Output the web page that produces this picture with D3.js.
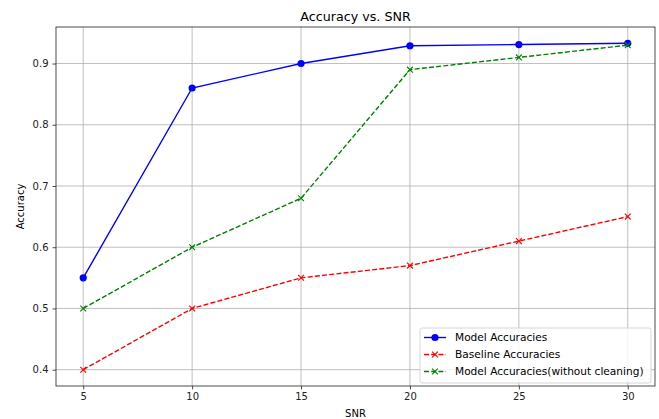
<!DOCTYPE html>
<html>
<head>
<meta charset="utf-8">
<title>Accuracy vs. SNR</title>
<style>
  body { margin: 0; background: #fff; }
  svg { display: block; font-family: 'DejaVu Sans', sans-serif; }
  .grid line { stroke: #b0b0b0; stroke-width: 0.8; }
</style>
<script src="https://d3js.org/d3.v7.min.js"></script>
</head>
<body>
<svg id="chart" width="659" height="419"></svg>
<script>
// data
var snr = [5, 10, 15, 20, 25, 30];
var modelAcc = [0.55, 0.86, 0.90, 0.929, 0.931, 0.933];
var baselineAcc = [0.40, 0.50, 0.55, 0.57, 0.61, 0.65];
var noCleanAcc = [0.50, 0.60, 0.68, 0.89, 0.91, 0.93];
var xTicks = [5, 10, 15, 20, 25, 30];
var yTicks = [0.4, 0.5, 0.6, 0.7, 0.8, 0.9];

var series = [
  { name: "Model Accuracies", values: modelAcc, color: "#0000ff", dash: null, marker: "o" },
  { name: "Baseline Accuracies", values: baselineAcc, color: "#ff0000", dash: "5,2.2", marker: "x" },
  { name: "Model Accuracies(without cleaning)", values: noCleanAcc, color: "#008000", dash: "5,2.2", marker: "x" }
];

var margin = { left: 56, right: 4, top: 27, bottom: 33 };
var W = 659, H = 419;
var svg = d3.select("#chart");

var x = d3.scaleLinear().domain([3.75, 31.25]).range([margin.left, W - margin.right]);
var lo = d3.min(series, s => d3.min(s.values)), hi = d3.max(series, s => d3.max(s.values));
var pad = (hi - lo) * 0.05;
var y = d3.scaleLinear().domain([lo - pad, hi + pad]).range([H - margin.bottom, margin.top]);

// grid
var g = svg.append("g").attr("class", "grid");
g.selectAll(".gx").data(xTicks).enter().append("line")
  .attr("x1", d => x(d)).attr("x2", d => x(d))
  .attr("y1", margin.top).attr("y2", H - margin.bottom);
g.selectAll(".gy").data(yTicks).enter().append("line")
  .attr("y1", d => y(d)).attr("y2", d => y(d))
  .attr("x1", margin.left).attr("x2", W - margin.right);

// axes
var xAxis = svg.append("g")
  .attr("transform", "translate(0," + (H - margin.bottom) + ")")
  .call(d3.axisBottom(x).tickValues(xTicks).tickSize(3.5).tickPadding(3.5).tickFormat(d3.format("d")));
var yAxis = svg.append("g")
  .attr("transform", "translate(" + margin.left + ",0)")
  .call(d3.axisLeft(y).tickValues(yTicks).tickSize(3.5).tickPadding(4).tickFormat(d3.format(".1f")));
[xAxis, yAxis].forEach(a => {
  a.select(".domain").remove();
  a.selectAll("text").attr("font-size", "10px").attr("font-family", "'DejaVu Sans', sans-serif").attr("fill", "#222");
  a.selectAll("line").attr("stroke", "#222").attr("stroke-width", 0.8);
});

// frame
svg.append("rect")
  .attr("x", margin.left).attr("y", margin.top)
  .attr("width", W - margin.left - margin.right).attr("height", H - margin.top - margin.bottom)
  .attr("fill", "none").attr("stroke", "#222").attr("stroke-width", 0.8);

// lines + markers
var line = d3.line().x((d, i) => x(snr[i])).y(d => y(d));

function drawMarker(sel, s, cx, cy) {
  if (s.marker === "o") {
    sel.append("circle").attr("cx", cx).attr("cy", cy).attr("r", 3.6).attr("fill", s.color);
  } else {
    var r = 2.9;
    sel.append("path")
      .attr("d", "M" + (cx - r) + "," + (cy - r) + "L" + (cx + r) + "," + (cy + r) +
                 "M" + (cx - r) + "," + (cy + r) + "L" + (cx + r) + "," + (cy - r))
      .attr("stroke", s.color).attr("stroke-width", 1.1).attr("fill", "none");
  }
}

series.forEach(s => {
  var grp = svg.append("g");
  grp.append("path")
    .attr("d", line(s.values))
    .attr("fill", "none")
    .attr("stroke", s.color)
    .attr("stroke-width", 1.4)
    .attr("stroke-dasharray", s.dash);
  s.values.forEach((v, i) => drawMarker(grp, s, x(snr[i]), y(v)));
});

// title and labels
svg.append("text").attr("x", (margin.left + W - margin.right) / 2).attr("y", 21)
  .attr("text-anchor", "middle").attr("font-size", "12.7px").attr("fill", "#000").text("Accuracy vs. SNR");
svg.append("text").attr("x", (margin.left + W - margin.right) / 2).attr("y", 417)
  .attr("text-anchor", "middle").attr("font-size", "10px").attr("fill", "#000").text("SNR");
svg.append("text")
  .attr("transform", "translate(24," + ((margin.top + H - margin.bottom) / 2) + ") rotate(-90)")
  .attr("text-anchor", "middle").attr("font-size", "10px").attr("fill", "#000").text("Accuracy");

// legend
var lg = svg.append("g").attr("transform", "translate(420,328)");
lg.append("rect").attr("width", 231).attr("height", 55).attr("rx", 2.5)
  .attr("fill", "#fff").attr("fill-opacity", 0.8).attr("stroke", "#cccccc").attr("stroke-width", 0.8);
series.forEach((s, i) => {
  var cy = 9.5 + i * 17;
  lg.append("line").attr("x1", 4).attr("x2", 26).attr("y1", cy).attr("y2", cy)
    .attr("stroke", s.color).attr("stroke-width", 1.4).attr("stroke-dasharray", s.dash);
  drawMarker(lg, s, 15, cy);
  lg.append("text").attr("x", 35).attr("y", cy + 3.8).attr("font-size", "10.6px").attr("fill", "#000").text(s.name);
});
</script>
</body>
</html>
